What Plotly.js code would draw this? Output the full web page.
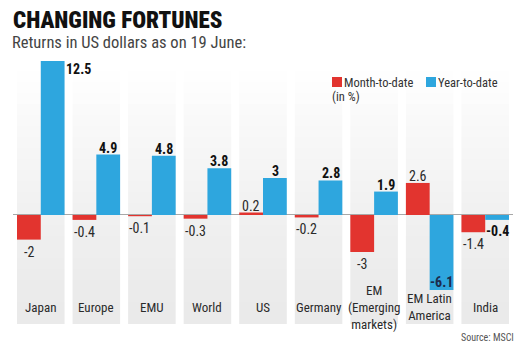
<!DOCTYPE html>
<html>
<head>
<meta charset="utf-8">
<script src="https://cdn.plot.ly/plotly-3.0.1.min.js"></script>
<style>html,body{margin:0;padding:0;background:#fff;}#chart{width:527px;height:351px;}</style>
</head>
<body>
<div id="chart"></div>
<script>
const categories = ['Japan','Europe','EMU','World','US','Germany','EM<br>(Emerging<br>markets)','EM Latin<br>America','India'];
const monthToDate = [-2, -0.4, -0.1, -0.3, 0.2, -0.2, -3, 2.6, -1.4];
const yearToDate = [12.5, 4.9, 4.8, 3.8, 3, 2.8, 1.9, -6.1, -0.4];
const seriesNames = ['Month-to-date', 'Year-to-date'];

const RED = '#e2342f';
const BLUE = '#2ea6de';
const FONT = '"Roboto Condensed", Roboto, sans-serif';
const yMin = -8.85, yMax = 12.58;
const xs = categories.map((_, i) => i);

// pixel helpers for paper coords (plot area: x 13..513, y 60..324)
const px = p => (p - 13) / 500;
const py = p => (324 - p) / 264;

const shapes = [];
// background columns with vertical fade (decoration)
const BANDS = 24;
xs.forEach(i => {
  for (let k = 0; k < BANDS; k++) {
    const t = k / (BANDS - 1);
    const g = Math.round(234 + (255 - 234) * Math.pow(t, 1.3));
    const y0 = yMin + (yMax - yMin) * k / BANDS;
    const y1 = yMin + (yMax - yMin) * (k + 1) / BANDS;
    shapes.push({type: 'rect', xref: 'x', yref: 'y', x0: i - 0.428, x1: i + 0.428, y0: y0, y1: y1 + 0.01,
      fillcolor: `rgb(${g},${g},${g})`, line: {width: 0}, layer: 'below'});
  }
});
// legend swatches
shapes.push({type: 'rect', xref: 'paper', yref: 'paper', x0: px(332), x1: px(342), y0: py(87), y1: py(77),
  fillcolor: RED, line: {width: 0}});
shapes.push({type: 'rect', xref: 'paper', yref: 'paper', x0: px(426), x1: px(436), y0: py(87), y1: py(77),
  fillcolor: BLUE, line: {width: 0}});

const traces = [
  {type: 'bar', name: seriesNames[0], x: xs, y: monthToDate, marker: {color: RED, line: {width: 0}}, showlegend: false},
  {type: 'bar', name: seriesNames[1], x: xs, y: yearToDate, marker: {color: BLUE, line: {width: 0}}, showlegend: false}
];

const f = (size, color, weight) => ({family: FONT, size: size, color: color, weight: weight || 'normal'});
const annotations = [];
xs.forEach(i => {
  const r = monthToDate[i];
  annotations.push({x: i, y: r, xref: 'x', yref: 'y', text: String(r), showarrow: false,
    xshift: -12, yshift: r >= 0 ? -3 : -2, yanchor: r >= 0 ? 'bottom' : 'top',
    font: f(14, '#2a2a2a')});
  const b = yearToDate[i];
  let a = {x: i, y: b, xref: 'x', yref: 'y', text: String(b), showarrow: false,
    xshift: 12, yanchor: b >= 0 ? 'bottom' : 'top', yshift: b >= 0 ? -3 : -1,
    font: f(14, '#111', 'bold')};
  if (b > 10) { a.xanchor = 'left'; a.xshift = 23; a.yanchor = 'top'; a.yshift = 2; }
  if (b < -5) { a.yanchor = 'bottom'; a.yshift = -2; a.font.color = '#1c2b4d'; }
  annotations.push(a);
  annotations.push({x: i, y: -7.5, xref: 'x', yref: 'y', text: categories[i], showarrow: false,
    yanchor: 'middle', font: f(13, '#2a2a2a')});
});

annotations.push({xref: 'paper', yref: 'paper', x: px(11), xanchor: 'left', y: py(5), yanchor: 'top',
  text: 'CHANGING FORTUNES', showarrow: false, font: f(23, '#111', 900)});
annotations.push({xref: 'paper', yref: 'paper', x: px(10), xanchor: 'left', y: py(31), yanchor: 'top',
  text: 'Returns in US dollars as on 19 June:', showarrow: false, font: f(16.5, '#444')});
annotations.push({xref: 'paper', yref: 'paper', x: px(342), xanchor: 'left', y: py(73), yanchor: 'top',
  text: seriesNames[0], showarrow: false, font: f(12.5, '#333')});
annotations.push({xref: 'paper', yref: 'paper', x: px(436), xanchor: 'left', y: py(73), yanchor: 'top',
  text: seriesNames[1], showarrow: false, font: f(12.5, '#333')});
annotations.push({xref: 'paper', yref: 'paper', x: px(330), xanchor: 'left', y: py(87), yanchor: 'top',
  text: '(in %)', showarrow: false, font: f(12.5, '#333')});
annotations.push({xref: 'paper', yref: 'paper', x: px(516), xanchor: 'right', y: py(337), yanchor: 'middle',
  text: 'Source: MSCI', showarrow: false, font: f(10, '#555')});

const layout = {
  width: 527, height: 351,
  margin: {l: 13, r: 14, t: 60, b: 27, pad: 0},
  paper_bgcolor: '#ffffff', plot_bgcolor: '#ffffff',
  barmode: 'group', bargap: 0.144, bargroupgap: 0,
  showlegend: false,
  xaxis: {range: [-0.5, 8.5], showgrid: false, zeroline: false, showticklabels: false, ticks: '', fixedrange: true},
  yaxis: {range: [yMin, yMax], showgrid: false, zeroline: true, zerolinecolor: '#a8a8a8', zerolinewidth: 1,
          showticklabels: false, ticks: '', layer: 'above traces', fixedrange: true},
  shapes: shapes,
  annotations: annotations,
  font: {family: FONT}
};

Plotly.newPlot('chart', traces, layout, {displayModeBar: false, staticPlot: true});
</script>
</body>
</html>
